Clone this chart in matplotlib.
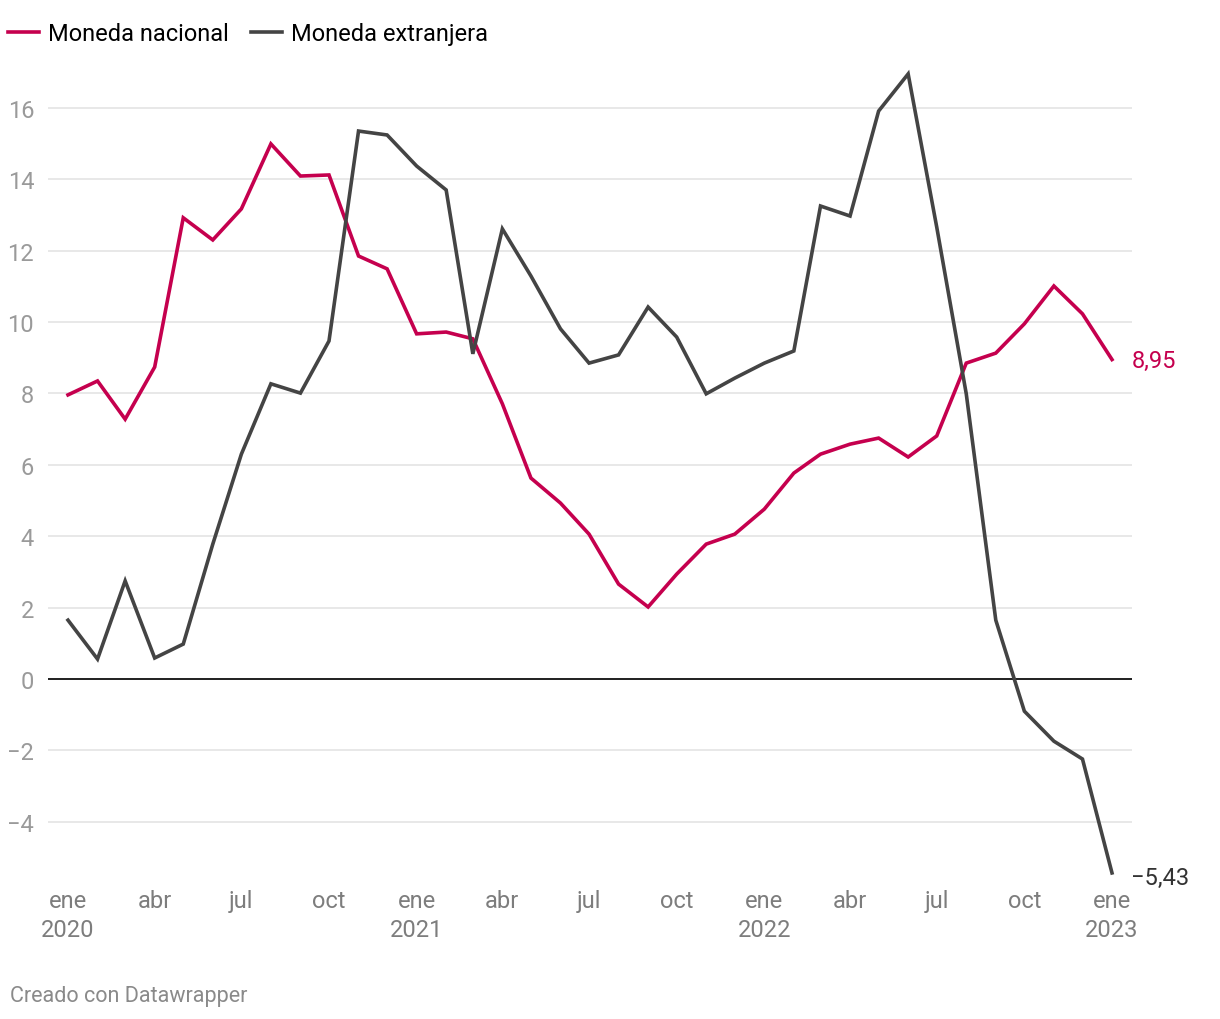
import numpy as np
import matplotlib.pyplot as plt
import matplotlib.dates as mdates
import pandas as pd

plt.rcParams['font.family'] = ['Roboto', 'DejaVu Sans']

# meses de ene 2020 a ene 2023
fechas = pd.date_range('2020-01-01', '2023-01-01', freq='MS')

moneda_nacional = [7.96, 8.35, 7.28, 8.74, 12.92, 12.30, 13.17, 14.99, 14.09, 14.12, 11.85, 11.49,
                   9.67, 9.72, 9.53, 7.71, 5.63, 4.93, 4.06, 2.66, 2.02, 2.94, 3.78, 4.06,
                   4.76, 5.77, 6.30, 6.58, 6.75, 6.22, 6.81, 8.85, 9.13, 9.95, 11.01, 10.23,
                   8.95]
moneda_extranjera = [1.65, 0.56, 2.75, 0.59, 0.98, 3.78, 6.30, 8.27, 8.01, 9.47, 15.35, 15.24,
                     14.37, 13.70, 9.11, 12.61, 11.29, 9.81, 8.85, 9.08, 10.42, 9.58, 7.99, 8.43,
                     8.85, 9.19, 13.25, 12.97, 15.91, 16.95, 12.66, 7.99, 1.65, -0.90, -1.74, -2.24,
                     -5.43]

yticks = [-4, -2, 0, 2, 4, 6, 8, 10, 12, 14, 16]
meses = {1: 'ene', 4: 'abr', 7: 'jul', 10: 'oct'}

rosa = '#c5004e'
gris = '#444444'

fig = plt.figure(figsize=(12.2, 10.2), dpi=100)
ax = fig.add_axes([48 / 1220, 1 - 880 / 1020, (1132 - 48) / 1220, (880 - 66) / 1020])

ax.plot(fechas, moneda_nacional, color=rosa, lw=2.6, solid_joinstyle='miter', zorder=3, label='Moneda nacional')
ax.plot(fechas, moneda_extranjera, color=gris, lw=2.6, solid_joinstyle='miter', zorder=3, label='Moneda extranjera')

d0 = mdates.date2num(fechas[0])
d1 = mdates.date2num(fechas[-1])
pad = (d1 - d0) * 20 / 1044
ax.set_xlim(d0 - pad, d1 + pad)
ax.set_ylim(-5.6, 17.2)

ax.set_yticks(yticks)
ax.set_yticklabels([str(v).replace('-', '\u2212') for v in yticks])
for v in yticks:
    ax.axhline(v, color='#e4e4e4', lw=1.2, zorder=1)
ax.axhline(0, color='#111111', lw=1.3, zorder=2)

trimestres = [f for f in fechas if f.month in meses]
etiquetas = []
for f in trimestres:
    if f.month == 1:
        etiquetas.append(f'{meses[f.month]}\n{f.year}')
    else:
        etiquetas.append(meses[f.month])
ax.set_xticks(trimestres)
ax.set_xticklabels(etiquetas, linespacing=1.32)

ax.tick_params(axis='x', length=0, pad=7.5, labelsize=17, colors='#7d7d7d')
ax.tick_params(axis='y', length=0, pad=10, labelsize=17, colors='#9a9a9a')
for lab in ax.get_xticklabels():
    lab.set_verticalalignment('top')
for s in ax.spines.values():
    s.set_visible(False)

# etiquetas del final
ax.annotate('8,95', (fechas[-1], moneda_nacional[-1]), xytext=(14, -1), textcoords='offset points',
            color=rosa, fontsize=17, va='center', ha='left', annotation_clip=False)
ax.annotate('\u22125,43', (fechas[-1], moneda_extranjera[-1]), xytext=(14, -3), textcoords='offset points',
            color='#333333', fontsize=17, va='center', ha='left', annotation_clip=False)

fig.legend(loc='upper left', bbox_to_anchor=(8 / 1220, 0.977), ncol=2, frameon=False,
           fontsize=17, handlelength=1.3, handletextpad=0.4, columnspacing=0.95,
           borderaxespad=0, borderpad=0)

fig.text(10 / 1220, 1 - 997 / 1020, 'Creado con Datawrapper', color='#8a8a8a', fontsize=15.5,
         va='center', ha='left')

fig.savefig('out.png', dpi=100)
